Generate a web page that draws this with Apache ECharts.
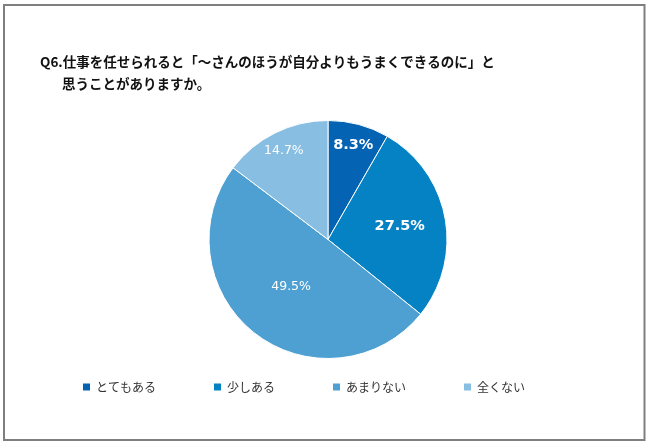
<!DOCTYPE html>
<html><head><meta charset="utf-8">
<script src="https://cdn.jsdelivr.net/npm/echarts@6/dist/echarts.min.js"></script>
<style>html,body{margin:0;padding:0;background:#fff}#c{width:650px;height:446px}</style>
</head><body><div id="c"></div>
<script>
const categories = ['とてもある', '少しある', 'あまりない', '全くない'];
const values = [8.3, 27.5, 49.5, 14.7];
const titleLines = ['Q6.仕事を任せられると「～さんのほうが自分よりもうまくできるのに」と', '思うことがありますか。'];

const colors = ['#0563B3', '#0582C4', '#4FA0D2', '#88BEE1'];
const labelRadius = [95, 70, 57, 96];
const bold = [true, true, false, false];
const R = 119;
const total = values.reduce((a, b) => a + b, 0);
let acc = 0;
const data = categories.map((name, i) => {
  const mid = (acc + values[i] / 2) / total * Math.PI * 2;
  acc += values[i];
  const d = labelRadius[i] - R / 2;
  return {
    name, value: values[i],
    itemStyle: { color: colors[i] },
    label: {
      offset: [d * Math.sin(mid), -d * Math.cos(mid)],
      fontWeight: bold[i] ? 'bold' : 'normal',
      fontSize: bold[i] ? 14.5 : 12.5
    }
  };
});

const chart = echarts.init(document.getElementById('c'), null, { renderer: 'canvas' });
chart.setOption({
  animation: false,
  title: [
    { text: titleLines[0], left: 40, top: 52, padding: 0,
      textStyle: { fontFamily: 'Noto Sans CJK JP', fontSize: 13.5, fontWeight: 'bold', color: '#111', lineHeight: 20 } },
    { text: titleLines[1], left: 62, top: 74, padding: 0,
      textStyle: { fontFamily: 'Noto Sans CJK JP', fontSize: 13.5, fontWeight: 'bold', color: '#111', lineHeight: 20 } }
  ],
  legend: {
    data: categories, left: 81, top: 381, padding: 0, itemGap: 56,
    itemWidth: 9, itemHeight: 9, icon: 'rect',
    textStyle: { fontFamily: 'Noto Sans CJK JP', fontSize: 12, color: '#333' }
  },
  graphic: [{
    type: 'rect', shape: { x: 4, y: 5, width: 640.5, height: 435 },
    style: { fill: 'none', stroke: '#7f7f7f', lineWidth: 2 }, silent: true
  }],
  series: [{
    type: 'pie', center: [328, 239.5], radius: [0, R],
    startAngle: 90, clockwise: true,
    itemStyle: { borderColor: '#fff', borderWidth: 1 },
    label: {
      show: true, position: 'inside', color: '#fff',
      fontFamily: 'DejaVu Sans',
      formatter: p => p.value.toFixed(1) + '%'
    },
    labelLine: { show: false },
    emphasis: { disabled: true },
    data
  }]
});
</script></body></html>
